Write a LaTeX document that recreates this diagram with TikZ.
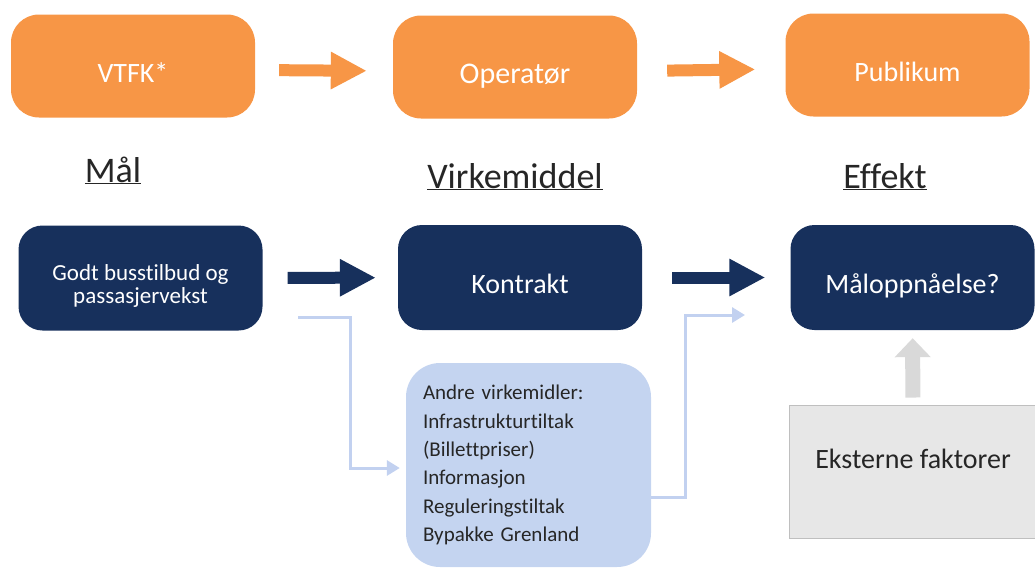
\documentclass[tikz,border=0pt]{standalone}
\usepackage{fontspec}
\setmainfont{Carlito}[Ligatures=NoCommon]
\usetikzlibrary{arrows.meta}

\definecolor{vtfkorange}{HTML}{F79646}
\definecolor{navy}{HTML}{17305C}
\definecolor{paleblue}{HTML}{C4D4F0}
\definecolor{linkblue}{HTML}{C2D1F0}
\definecolor{greyfill}{HTML}{E7E7E7}
\definecolor{greyline}{HTML}{BFBFBF}
\definecolor{greyarrow}{HTML}{D9D9D9}
\definecolor{darktext}{HTML}{262626}

\tikzset{
  actor/.style={fill=vtfkorange, text=white, rounded corners=28pt, minimum width=244pt,
    minimum height=103pt, inner sep=0pt, text height=33pt, text depth=0pt,
    font=\fontsize{28}{32}\selectfont},
  chainbox/.style={fill=navy, text=white, rounded corners=24pt, minimum width=244pt,
    minimum height=105pt, inner sep=0pt, font=\fontsize{28}{32}\selectfont},
  lowtext/.style={text height=31pt, text depth=0pt},
  heading/.style={text=darktext, inner sep=0pt, anchor=base, font=\fontsize{36}{40}\selectfont},
  bigarrow/.style={line width=12pt, -{Triangle[length=36pt,width=35pt]}},
  link/.style={linkblue, line width=3pt, -{Triangle[length=13pt,width=15pt]}},
}

\begin{document}
\begin{tikzpicture}[x=1pt, y=-1pt]
  \useasboundingbox (0,0) rectangle (1035,568);

  % aktører
  \node[actor] (vtfk) at (133,66) {VTFK*};
  \node[actor, font=\fontsize{30}{34}\selectfont] (operator) at (515,67) {Operatør};
  \node[actor] (publikum) at (907.5,65) {Publikum};

  \draw[bigarrow, vtfkorange, shorten <=24pt, shorten >=26pt] ([yshift=-4pt]vtfk.east) -- ([yshift=-4pt]operator.west);
  \draw[bigarrow, vtfkorange, shorten <=30pt, shorten >=30pt] ([yshift=-4pt]operator.east) -- ([yshift=-4pt]publikum.west);

  % overskrifter
  \node[heading] (mal) at (113,182) {\underline{Mål}};
  \node[heading] (virkemiddel) at (515,188) {\underline{Virkemiddel}};
  \node[heading] (effektlabel) at (885,188) {\underline{Effekt}};

  % kjeden
  \node[chainbox, align=center, font=\fontsize{23}{23}\selectfont, text height=50pt, text depth=0pt] (goal) at (140.5,278) {Godt busstilbud og\\passasjervekst};
  \node[chainbox, lowtext] (kontrakt) at (520,277.5) {Kontrakt};
  \node[chainbox, lowtext] (effekt) at (912.5,277.5) {Måloppnåelse?};

  \draw[bigarrow, navy, shorten <=25pt, shorten >=22pt] (goal) -- (kontrakt);
  \draw[bigarrow, navy, shorten <=30pt, shorten >=25pt] (kontrakt) -- (effekt);

  % andre virkemidler
  \node[fill=paleblue, rounded corners=34pt, minimum height=204pt, text width=211pt,
    inner xsep=17pt, align=left, text=darktext, font=\fontsize{21}{28.4}\selectfont]
    (andre) at (528.5,465) {Andre virkemidler:\\Infrastrukturtiltak\\(Billettpriser)\\Informasjon\\Reguleringstiltak\\Bypakke Grenland};

  \coordinate (linkstart) at (298,317);
  \coordinate (linkend) at (745,315);
  \draw[link] (linkstart) -| ([shift={(-55pt,-3pt)}]andre.west) -- ([shift={(-6pt,-3pt)}]andre.west);
  \draw[link] ([yshift=-32pt]andre.east) -| ([xshift=-60pt]linkend) -- (linkend);

  % eksterne faktorer
  \node[fill=greyfill, draw=greyline, line width=1pt, minimum width=248pt, minimum height=133pt,
    inner sep=0pt, text height=20pt, text depth=27pt, text=darktext, font=\fontsize{28}{32}\selectfont]
    (ekstern) at (913,471.5) {Eksterne faktorer};
  \draw[greyarrow, line width=15pt, -{Triangle[length=19pt,width=35pt]}, shorten <=7pt, shorten >=8pt] (ekstern) -- (effekt);
\end{tikzpicture}
\end{document}
